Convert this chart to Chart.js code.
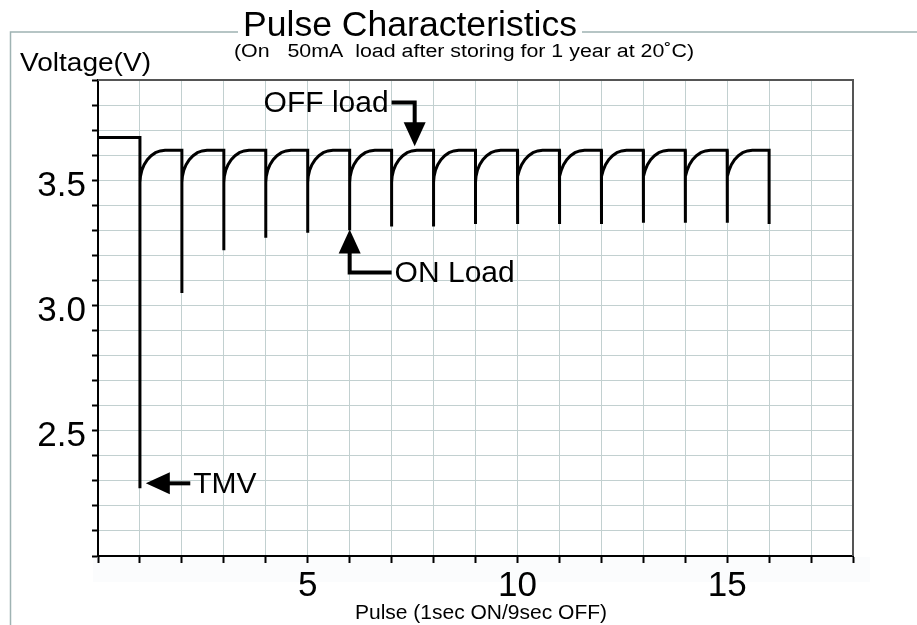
<!DOCTYPE html>
<html>
<head>
<meta charset="utf-8">
<script src="https://cdn.jsdelivr.net/npm/chart.js@4.4.1/dist/chart.umd.min.js"></script>
<style>
	html, body { margin: 0; padding: 0; background: #fff; }
	#wrap { width: 917px; height: 625px; }
</style>
</head>
<body>
<div id="wrap"><canvas id="pulseChart" width="917" height="625"></canvas></div>
<script>
// pulse number where the 1 sec ON load is applied
const pulseNumbers = [1, 2, 3, 4, 5, 6, 7, 8, 9, 10, 11, 12, 13, 14, 15, 16];
// lowest voltage reached during each ON load (V)
const pulseMinimum = [2.27, 3.05, 3.22, 3.27, 3.29, 3.30, 3.315, 3.315, 3.325, 3.325, 3.325, 3.325, 3.33, 3.33, 3.33, 3.325];
// voltage before the first pulse and at the end of each OFF period
const startVoltage = 3.67;
const offVoltage = 3.62;
// recovery after the load is removed: offset from the pulse, voltage
const recoveryOffset = [0, 0.012, 0.046, 0.10, 0.176, 0.267, 0.37, 0.483, 0.6];
const recoveryVoltage = [3.49, 3.515, 3.54, 3.562, 3.582, 3.598, 3.61, 3.617, 3.62];

const xLabelTicks = [5, 10, 15];
const yLabelTicks = [2.5, 3.0, 3.5];

// call-outs, in pulse / volt units: label anchor first, arrow tip last
const offLoadArrow = [[7.0, 3.81], [7.55, 3.81], [7.55, 3.636]];
const onLoadArrow = [[7.0, 3.132], [6.0, 3.132], [6.0, 3.303]];
const tmvArrow = [[2.2, 2.29], [1.14, 2.29]];

(() => {
	'use strict'

	const ctx = document.getElementById('pulseChart');
	const fontFamily = '"Liberation Sans", Arial, Helvetica, sans-serif';

	const points = [{ x: 0, y: startVoltage }];
	pulseNumbers.forEach((pulse, i) => {
		points.push({ x: pulse, y: i === 0 ? startVoltage : offVoltage });
		points.push({ x: pulse, y: pulseMinimum[i] });
		if (i < pulseNumbers.length - 1) {
			recoveryOffset.forEach((dx, j) => {
				points.push({ x: pulse + dx, y: recoveryVoltage[j] });
			});
		}
	});

	// text squeezed or widened to a given width, the way the scan shows it
	function fillWide(c, text, x, y, width, align) {
		const natural = c.measureText(text).width;
		const k = width / natural;
		c.save();
		c.translate(x, y);
		c.scale(k, 1);
		c.textAlign = align;
		c.fillText(text, 0, 0);
		c.restore();
	}

	function drawArrow(chart, path, label, align) {
		const c = chart.ctx;
		const xs = chart.scales.x;
		const ys = chart.scales.y;
		const px = path.map((p) => [xs.getPixelForValue(p[0]), ys.getPixelForValue(p[1])]);
		const tip = px[px.length - 1];
		const prev = px[px.length - 2];
		const len = Math.hypot(tip[0] - prev[0], tip[1] - prev[1]);
		const ux = (tip[0] - prev[0]) / len;
		const uy = (tip[1] - prev[1]) / len;
		const headLength = 24;
		const headHalf = 11;
		const base = [tip[0] - ux * headLength, tip[1] - uy * headLength];

		c.save();
		c.strokeStyle = '#000';
		c.fillStyle = '#000';
		c.lineWidth = 4;
		c.lineJoin = 'miter';
		c.beginPath();
		c.moveTo(px[0][0], px[0][1]);
		for (let i = 1; i < px.length - 1; i++) {
			c.lineTo(px[i][0], px[i][1]);
		}
		c.lineTo(base[0] + ux * 2, base[1] + uy * 2);
		c.stroke();

		c.beginPath();
		c.moveTo(tip[0], tip[1]);
		c.lineTo(base[0] - uy * headHalf, base[1] + ux * headHalf);
		c.lineTo(base[0] + uy * headHalf, base[1] - ux * headHalf);
		c.closePath();
		c.fill();

		c.font = `30px ${fontFamily}`;
		c.textBaseline = 'middle';
		c.textAlign = align;
		c.fillText(label, px[0][0] + (align === 'left' ? 3 : -3), px[0][1] + 1);
		c.restore();
	}

	const decorations = {
		id: 'decorations',
		beforeDraw(chart) {
			const c = chart.ctx;
			c.save();
			c.fillStyle = '#fff';
			c.fillRect(0, 0, chart.width, chart.height);
			// faint band behind the x tick labels
			c.fillStyle = '#fbfcfd';
			c.fillRect(93, 557, 777, 25);
			c.restore();
		},
		afterDraw(chart) {
			const c = chart.ctx;
			const area = chart.chartArea;

			// dark frame on top and right of the plot
			c.save();
			c.strokeStyle = '#555';
			c.lineWidth = 2;
			c.beginPath();
			c.moveTo(area.left, area.top);
			c.lineTo(area.right, area.top);
			c.lineTo(area.right, area.bottom);
			c.stroke();

			// outer page frame broken by the title
			const title = 'Pulse Characteristics';
			const titleLeft = 243;
			const titleWidth = 334;
			c.strokeStyle = '#9fb3b3';
			c.lineWidth = 1.5;
			c.beginPath();
			c.moveTo(10.5, chart.height);
			c.lineTo(10.5, 32);
			c.lineTo(titleLeft - 5, 32);
			c.moveTo(titleLeft + titleWidth + 5, 32);
			c.lineTo(chart.width, 32);
			c.stroke();

			c.fillStyle = '#000';
			c.textBaseline = 'alphabetic';
			c.font = `35px ${fontFamily}`;
			fillWide(c, title, titleLeft, 36, titleWidth, 'left');

			c.font = `18px ${fontFamily}`;
			fillWide(c, '(On   50mA  load after storing for 1 year at 20\u02DAC)', 234, 57, 460, 'left');

			c.font = `25px ${fontFamily}`;
			fillWide(c, 'Voltage(V)', 20, 71, 131, 'left');

			c.font = `21px ${fontFamily}`;
			c.textAlign = 'center';
			c.fillText('Pulse (1sec ON/9sec OFF)', 481, 619);
			c.restore();

			drawArrow(chart, offLoadArrow, 'OFF load', 'right');
			drawArrow(chart, onLoadArrow, 'ON Load', 'left');
			drawArrow(chart, tmvArrow, 'TMV', 'left');
		}
	};

	new Chart(ctx, {
		type: 'line',
		data: {
			datasets: [
				{
					label: 'Voltage',
					data: points,
					borderColor: '#000',
					backgroundColor: 'transparent',
					borderWidth: 3,
					pointRadius: 0,
					tension: 0,
					fill: false
				}
			]
		},
		options: {
			responsive: false,
			animation: false,
			devicePixelRatio: 1,
			layout: {
				padding: { top: 80, right: 64, left: 0, bottom: 0 }
			},
			plugins: {
				legend: { display: false },
				tooltip: { enabled: false }
			},
			scales: {
				x: {
					type: 'linear',
					min: 0,
					max: 18,
					afterFit(scale) { scale.height = 69; },
					grid: {
						color: '#c2d0d0',
						lineWidth: 1,
						tickColor: '#000',
						tickLength: 7,
						tickWidth: 2
					},
					border: { color: '#000', width: 2 },
					ticks: {
						stepSize: 1,
						autoSkip: false,
						maxRotation: 0,
						padding: 2,
						color: '#000',
						font: { family: fontFamily, size: 35 },
						callback: function(value) {
							return xLabelTicks.includes(value) ? String(value) : '';
						}
					}
				},
				y: {
					min: 2.0,
					max: 3.9,
					afterFit(scale) { scale.width = 98; },
					grid: {
						color: '#c2d0d0',
						lineWidth: 1,
						tickColor: '#000',
						tickLength: 6,
						tickWidth: 2
					},
					border: { color: '#000', width: 2 },
					ticks: {
						stepSize: 0.1,
						autoSkip: false,
						padding: 6,
						labelOffset: 6,
						color: '#000',
						font: { family: fontFamily, size: 35 },
						callback: function(value) {
							const match = yLabelTicks.find((t) => Math.abs(t - value) < 1e-6);
							return match === undefined ? '' : match.toFixed(1);
						}
					}
				}
			}
		},
		plugins: [decorations]
	});
})()
</script>
</body>
</html>
